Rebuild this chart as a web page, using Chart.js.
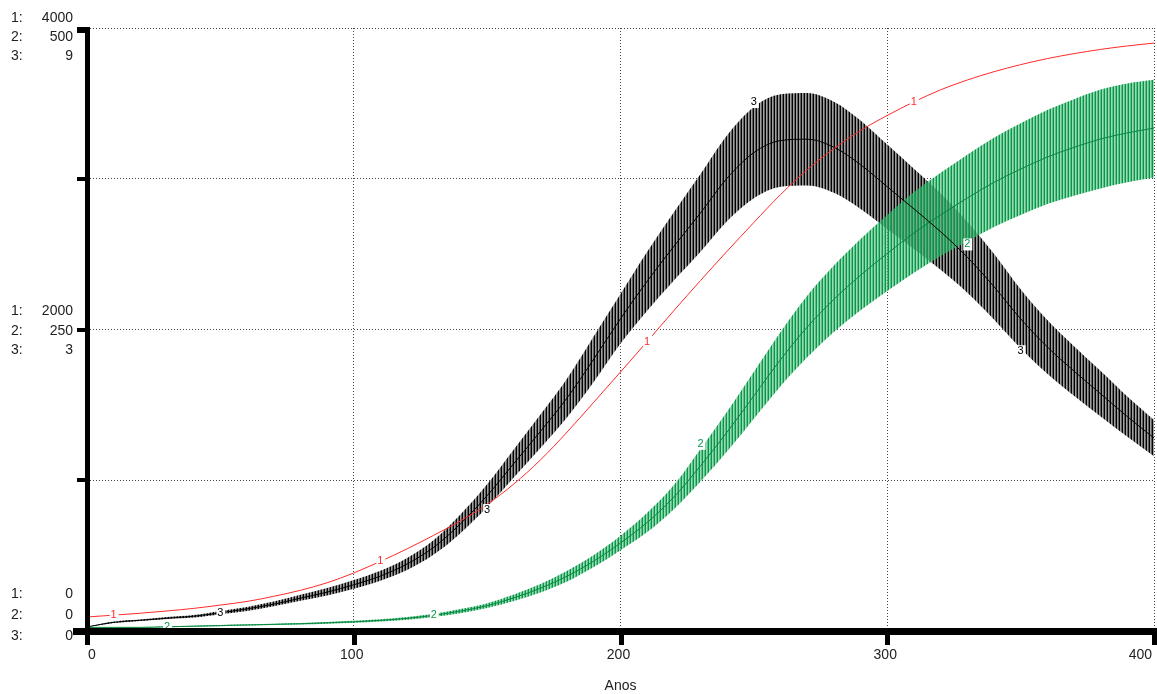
<!DOCTYPE html>
<html>
<head>
<meta charset="utf-8">
<script src="https://cdn.jsdelivr.net/npm/chart.js@4/dist/chart.umd.min.js"></script>
<style>
  html, body { margin: 0; padding: 0; background: #fff; }
  canvas { display: block; }
</style>
</head>
<body>
<canvas id="chart" width="1157" height="694"></canvas>
<script>
// years on the x axis (Anos)
const years = [0, 10, 20, 30, 40, 50, 60, 70, 80, 90, 100, 110, 120, 130, 140, 150, 160, 170, 180, 190, 200,
  210, 220, 230, 240, 250, 260, 270, 280, 290, 300, 310, 320, 330, 340, 350, 360, 370, 380, 390, 400];

// series 1 (red), scale 0..4000
const serie1 = [93, 105, 118, 133, 150, 172, 196, 230, 270, 320, 385, 462, 545, 635, 730, 840, 975, 1135, 1320, 1518, 1718,
  1920, 2125, 2325, 2520, 2710, 2895, 3060, 3200, 3320, 3420, 3510, 3590, 3655, 3710, 3757, 3797, 3830, 3858, 3881, 3900];

// series 2 (green), scale 0..500 : middle line and the edges of the oscillation band
const serie2 = [3, 3, 3, 3.5, 4, 4.5, 5, 5.5, 6, 6.8, 7.6, 8.8, 10.5, 13, 16.5, 21, 27.5, 35.5, 45.5, 58, 73,
  90, 111, 137, 165, 195, 225, 252, 275, 295, 313, 330, 345, 359, 372, 383, 393, 401, 408, 413, 417];
const serie2Top = [3, 3.3, 3.3, 3.9, 4.4, 5, 5.5, 6.1, 6.6, 7.5, 8.4, 9.7, 11.6, 14.3, 18.2, 23, 30.2, 39, 50, 63, 79,
  98, 121, 151, 182, 215, 248, 278, 303, 325, 345, 364, 380, 395, 409, 421, 432, 441, 449, 454, 457];
const serie2Bottom = [3, 2.7, 2.7, 3.1, 3.6, 4, 4.5, 4.9, 5.4, 6.1, 6.8, 7.9, 9.4, 11.7, 14.8, 19, 24.8, 32, 41, 53, 67,
  82, 101, 124, 149, 176, 203, 227, 248, 266, 282, 297, 311, 323, 335, 345, 354, 361, 367, 372, 376];

// series 3 (black), scale 0..9
const serie3 = [0.06, 0.13, 0.16, 0.19, 0.22, 0.27, 0.33, 0.40, 0.49, 0.58, 0.69, 0.82, 1.00, 1.25, 1.60, 2.02, 2.50, 2.98, 3.48, 4.06, 4.66,
  5.22, 5.74, 6.24, 6.76, 7.14, 7.32, 7.34, 7.22, 6.96, 6.63, 6.30, 5.96, 5.58, 5.14, 4.66, 4.24, 3.88, 3.54, 3.20, 2.88];
const serie3Top = [0.06, 0.14, 0.17, 0.21, 0.24, 0.30, 0.36, 0.44, 0.54, 0.64, 0.76, 0.90, 1.09, 1.36, 1.74, 2.19, 2.71, 3.23, 3.77, 4.40, 5.03,
  5.66, 6.25, 6.82, 7.40, 7.82, 8.01, 8.03, 7.90, 7.62, 7.26, 6.90, 6.53, 6.11, 5.63, 5.10, 4.64, 4.25, 3.88, 3.50, 3.15];
const serie3Bottom = [0.06, 0.12, 0.15, 0.18, 0.20, 0.25, 0.30, 0.37, 0.45, 0.53, 0.63, 0.75, 0.91, 1.14, 1.46, 1.85, 2.29, 2.73, 3.19, 3.72, 4.29,
  4.78, 5.23, 5.66, 6.12, 6.46, 6.63, 6.65, 6.54, 6.30, 6.00, 5.70, 5.39, 5.05, 4.65, 4.22, 3.84, 3.51, 3.20, 2.90, 2.61];

// axis ranges and the labels printed on the left
const axisMax = [4000, 500, 9];
const leftTop = ['4000', '500', '9'];
const leftMid = ['2000', '250', '3'];
const leftBottom = ['0', '0', '0'];
const xTicks = [0, 100, 200, 300, 400];
const xTitle = 'Anos';

// number tags placed along each curve: year and which line they sit on
const tags1 = [[10, 'mid'], [110, 'mid'], [210, 'mid'], [310, 'mid']];
const tags2 = [[30, 'mid'], [130, 'mid'], [230, 'top'], [330, 'bottom']];
const tags3 = [[50, 'mid'], [150, 'bottom'], [250, 'top'], [350, 'bottom']];

const RED = '#ff2a2a';
const GREEN = '#0a9a4a';
const FONT = '"Liberation Sans", Arial, sans-serif';

function stripes(cols) {
  const c = document.createElement('canvas');
  c.width = cols.length; c.height = 1;
  const g = c.getContext('2d');
  cols.forEach((col, i) => { g.fillStyle = col; g.fillRect(i, 0, 1, 1); });
  return g.createPattern(c, 'repeat');
}
const blackStripes = stripes(['#000', '#a0a0a0', '#606060']);
const greenStripes = stripes(['#07964a', 'rgba(70,190,120,0.55)', 'rgba(40,170,95,0.75)']);

const pts = arr => years.map((x, i) => ({ x, y: arr[i] }));
const line = { pointRadius: 0, borderWidth: 1, cubicInterpolationMode: 'monotone', fill: false };

const datasets = [
  { ...line, label: '1', data: pts(serie1), borderColor: RED, yAxisID: 'y1', order: 0 },
  { ...line, label: '3', data: pts(serie3), borderColor: '#000', yAxisID: 'y3', order: 1 },
  { ...line, label: '2', data: pts(serie2), borderColor: '#08863f', yAxisID: 'y2', order: 2 },
  { ...line, label: '2 baixo', data: pts(serie2Bottom), borderWidth: 0, yAxisID: 'y2', order: 5 },
  { ...line, label: '2 alto', data: pts(serie2Top), borderWidth: 0, yAxisID: 'y2', order: 4, fill: '-1', backgroundColor: greenStripes },
  { ...line, label: '3 baixo', data: pts(serie3Bottom), borderWidth: 0, yAxisID: 'y3', order: 7 },
  { ...line, label: '3 alto', data: pts(serie3Top), borderWidth: 0, yAxisID: 'y3', order: 6, fill: '-1', backgroundColor: blackStripes }
];

// STELLA-like frame: heavy axes, stacked scale labels, curve numbers
const frame = {
  id: 'frame',
  afterDatasetsDraw(chart) {
    const ctx = chart.ctx;
    const x = chart.scales.x;
    const sets = [
      { tags: tags1, axis: 'y1', color: RED, mid: serie1, top: serie1, bottom: serie1, text: '1' },
      { tags: tags2, axis: 'y2', color: GREEN, mid: serie2, top: serie2Top, bottom: serie2Bottom, text: '2' },
      { tags: tags3, axis: 'y3', color: '#000', mid: serie3, top: serie3Top, bottom: serie3Bottom, text: '3' }
    ];
    ctx.save();
    ctx.font = '11px ' + FONT;
    ctx.textAlign = 'center';
    ctx.textBaseline = 'middle';
    sets.forEach(s => {
      s.tags.forEach(([yr, which]) => {
        const i = years.indexOf(yr);
        const px = x.getPixelForValue(yr);
        const py = chart.scales[s.axis].getPixelForValue(s[which][i]);
        const dy = which === 'top' ? -5 : which === 'bottom' ? 3 : 0;
        ctx.fillStyle = '#fff';
        ctx.fillRect(px - 4, py + dy - 6, 9, 12);
        ctx.fillStyle = s.color;
        ctx.fillText(s.text, px, py + dy);
      });
    });
    ctx.restore();
  },
  afterDraw(chart) {
    const ctx = chart.ctx;
    const x = chart.scales.x, y = chart.scales.y1;
    const left = x.getPixelForValue(0), bottom = y.getPixelForValue(0), top = y.getPixelForValue(axisMax[0]);
    ctx.save();
    ctx.fillStyle = '#000';
    // axes
    ctx.fillRect(left - 2, top - 1, 5, bottom - top + 15);
    ctx.fillRect(left - 10, top - 1, 10, 6);
    ctx.fillRect(73, bottom - 3, chart.width - 73, 7);
    [1000, 2000, 3000].forEach(v => {
      const py = y.getPixelForValue(v);
      ctx.fillRect(left - 10, Math.round(py) - 2, 10, 4);
    });
    xTicks.forEach(v => {
      const px = x.getPixelForValue(v);
      ctx.fillRect(Math.round(px) - 2, bottom + 2, 5, 12);
    });

    // x tick labels and title
    ctx.fillStyle = '#222';
    ctx.font = '14px ' + FONT;
    ctx.textBaseline = 'middle';
    xTicks.forEach((v, i) => {
      const px = x.getPixelForValue(v);
      if (i === 0) { ctx.textAlign = 'left'; ctx.fillText(String(v), px + 1, bottom + 24); }
      else if (i === xTicks.length - 1) { ctx.textAlign = 'right'; ctx.fillText(String(v), px - 2, bottom + 24); }
      else { ctx.textAlign = 'center'; ctx.fillText(String(v), px - 2, bottom + 24); }
    });
    ctx.textAlign = 'center';
    ctx.fillText(xTitle, x.getPixelForValue(200), bottom + 55);

    // stacked scale labels on the left
    const block = (vals, base, offs) => {
      vals.forEach((t, i) => {
        ctx.textAlign = 'left';
        ctx.fillText((i + 1) + ':', 11, base + offs[i]);
        ctx.textAlign = 'right';
        ctx.fillText(t, 73, base + offs[i]);
      });
    };
    block(leftTop, top, [-10, 9, 28]);
    block(leftMid, y.getPixelForValue(2000), [-18, 2, 21]);
    block(leftBottom, bottom, [-37, -16, 5]);
    ctx.restore();
  }
};

const grid = { color: '#444', lineWidth: 1, drawTicks: false };
const dottedBorder = { display: false, dash: [1, 2] };

new Chart(document.getElementById('chart'), {
  type: 'line',
  data: { datasets },
  options: {
    responsive: false,
    animation: false,
    devicePixelRatio: 1,
    layout: { padding: { left: 87, right: 3, top: 28, bottom: 63 } },
    plugins: { legend: { display: false }, tooltip: { enabled: false } },
    scales: {
      x: {
        type: 'linear', min: 0, max: 400,
        ticks: { display: false, stepSize: 100 },
        grid: { ...grid },
        border: dottedBorder
      },
      y1: {
        position: 'left', min: 0, max: axisMax[0],
        ticks: { display: false, stepSize: 1000 },
        grid: { ...grid },
        border: dottedBorder
      },
      y2: { display: false, min: 0, max: axisMax[1] },
      y3: { display: false, min: 0, max: axisMax[2] }
    }
  },
  plugins: [frame]
});
</script>
</body>
</html>
